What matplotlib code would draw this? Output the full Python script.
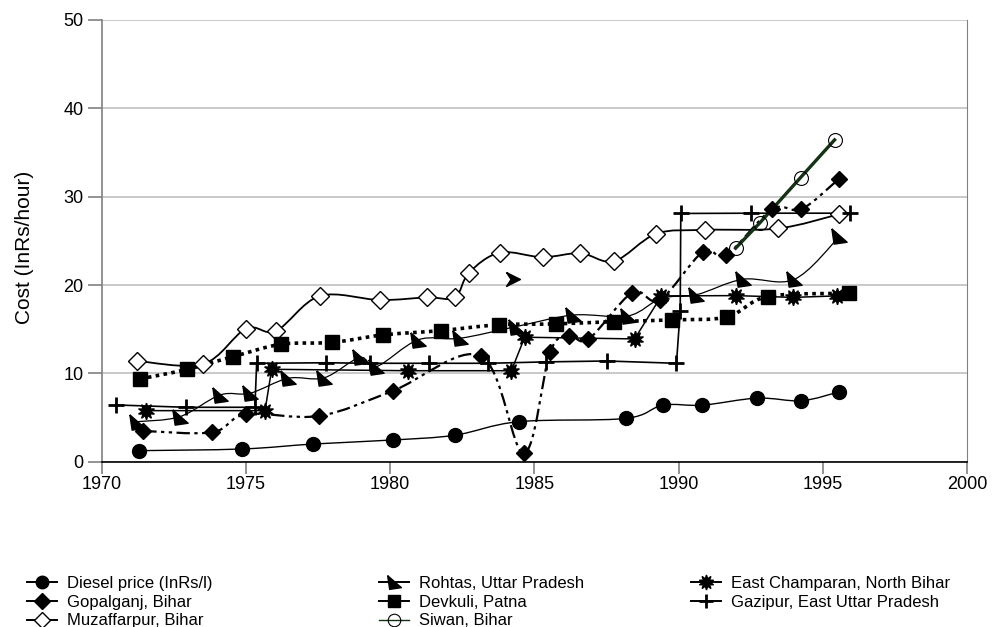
import numpy as np
import matplotlib
matplotlib.use("Agg")
import matplotlib.pyplot as plt
from matplotlib.path import Path
from matplotlib.patches import PathPatch
from matplotlib.lines import Line2D

plt.rcParams['font.family'] = ['Liberation Sans', 'DejaVu Sans']

# ---------------- data ----------------
diesel_x = [1971.3, 1974.87, 1977.33, 1980.1, 1982.24, 1984.45, 1988.16, 1989.45, 1990.82, 1992.72, 1994.25, 1995.55]
diesel_y = [1.25, 1.44, 2.0, 2.46, 3.0, 4.53, 4.9, 6.4, 6.4, 7.2, 6.9, 7.9]

gopal_x = [1971.44, 1973.83, 1975.0, 1977.54, 1980.08, 1983.14, 1984.63, 1985.54, 1986.20, 1986.87,
           1988.39, 1989.34, 1990.84, 1991.65, 1993.24, 1994.25, 1995.54]
gopal_y = [3.48, 3.33, 5.37, 5.18, 8.0, 11.97, 0.95, 12.39, 14.27, 13.86,
           19.14, 18.3, 23.78, 23.4, 28.58, 28.58, 31.98]

muzaf_x = [1971.23, 1973.52, 1975.0, 1976.04, 1977.56, 1979.65, 1981.29, 1982.24, 1982.73, 1983.80,
           1985.28, 1986.59, 1987.76, 1989.22, 1990.92, 1993.44, 1995.54]
muzaf_y = [11.4, 11.06, 15.06, 14.8, 18.76, 18.3, 18.6, 18.6, 21.4, 23.67,
           23.15, 23.6, 22.7, 25.8, 26.24, 26.4, 28.0]

rohtas_x = [1971.23, 1972.71, 1974.10, 1975.14, 1976.46, 1977.71, 1978.95, 1979.52, 1980.97, 1982.41,
            1984.37, 1986.34, 1988.24, 1989.4, 1990.61, 1992.22, 1994.01, 1995.57]
rohtas_y = [4.53, 5.1, 7.55, 7.75, 9.44, 9.5, 11.8, 10.76, 13.8, 13.97,
            15.3, 16.6, 16.5, 18.5, 18.9, 20.65, 20.65, 25.5]

devkuli_x = [1971.33, 1972.97, 1974.56, 1976.23, 1977.99, 1979.75, 1981.75, 1983.77, 1985.76, 1987.76,
             1989.76, 1991.68, 1993.09, 1995.9]
devkuli_y = [9.37, 10.46, 11.9, 13.3, 13.5, 14.35, 14.84, 15.5, 15.6, 15.86,
             16.05, 16.4, 18.7, 19.07]

siwan_x = [1991.97, 1992.80, 1994.22, 1995.40]
siwan_y = [24.17, 27.0, 32.16, 36.43]

champ_x = [1971.52, 1975.66, 1975.89, 1980.62, 1984.2, 1984.66, 1988.47, 1989.4, 1991.99, 1993.96, 1995.49]
champ_y = [5.78, 5.78, 10.46, 10.3, 10.3, 14.09, 13.9, 18.77, 18.8, 18.6, 18.77]

gazi_x = [1970.51, 1972.92, 1975.31, 1975.37, 1977.79, 1979.29, 1981.35, 1983.39, 1985.41, 1987.51,
          1989.92, 1990.05, 1990.07, 1992.52, 1995.95]
gazi_y = [6.42, 6.16, 6.16, 11.14, 11.2, 11.14, 11.14, 11.14, 11.3, 11.4,
          11.14, 17.1, 28.1, 28.13, 28.13]

stray_x = [1984.26]
stray_y = [20.65]

labels = ["Diesel price (InRs/l)", "Gopalganj, Bihar", "Muzaffarpur, Bihar",
          "Rohtas, Uttar Pradesh", "Devkuli, Patna", "Siwan, Bihar",
          "East Champaran, North Bihar", "Gazipur, East Uttar Pradesh"]

xticks = [1970, 1975, 1980, 1985, 1990, 1995, 2000]
yticks = [0, 10, 20, 30, 40, 50]

# ---------------- helpers ----------------
def smooth_path(x, y):
    pts = np.column_stack([x, y]).astype(float)
    n = len(pts)
    verts = [pts[0]]
    codes = [Path.MOVETO]
    for i in range(n - 1):
        p0 = pts[max(i - 1, 0)]
        p1 = pts[i]
        p2 = pts[i + 1]
        p3 = pts[min(i + 2, n - 1)]
        c1 = p1 + (p2 - p0) / 6.0
        c2 = p2 - (p3 - p1) / 6.0
        verts += [c1, c2, p2]
        codes += [Path.CURVE4] * 3
    return Path(verts, codes)

tri = [(-1, 1), (1, -0.75), (-0.7, -1), (-1, 1)]
arrow = [(-1, 1), (1, 0), (-1, -1), (-0.35, 0), (-1, 1)]

dashdotdot = (0, (6, 2, 1.5, 2, 1.5, 2))
dotted = (0, (1, 1.2))

styles = [
    dict(color='black', lw=1.0, ls='-', marker='o', ms=10, mfc='black', mec='black'),
    dict(color='black', lw=1.6, ls=dashdotdot, marker='D', ms=8.5, mfc='black', mec='black'),
    dict(color='black', lw=1.3, ls='-', marker='D', ms=9.5, mfc='white', mec='black', mew=1.0),
    dict(color='black', lw=0.9, ls='-', marker=tri, ms=11, mfc='black', mec='black'),
    dict(color='black', lw=2.6, ls=dotted, marker='s', ms=9.5, mfc='black', mec='black'),
    dict(color='#143214', lw=2.4, ls='-', marker='o', ms=10, mfc='none', mec='black', mew=0.8),
    dict(color='black', lw=1.1, ls='-', marker=(10, 1, 0), ms=12, mfc='black', mec='black'),
    dict(color='black', lw=1.2, ls='-', marker='+', ms=11, mfc='black', mec='black', mew=2.0),
]

series = [(diesel_x, diesel_y, True), (gopal_x, gopal_y, True), (muzaf_x, muzaf_y, True),
          (rohtas_x, rohtas_y, True), (devkuli_x, devkuli_y, True), (siwan_x, siwan_y, False),
          (champ_x, champ_y, False), (gazi_x, gazi_y, False)]

# ---------------- figure ----------------
fig = plt.figure(figsize=(9.94, 6.27), dpi=100)
ax = fig.add_axes([101.7 / 994, 1 - 461.7 / 627, (967.3 - 101.7) / 994, (461.7 - 20) / 627])

ax.set_xlim(1970, 2000)
ax.set_ylim(0, 50)
ax.set_xticks(xticks)
ax.set_yticks(yticks)
ax.yaxis.grid(True, color='#c0c0c0', lw=1.2)
ax.set_axisbelow(True)

ax.spines['top'].set_visible(False)
ax.spines['right'].set_color('#808080')
ax.spines['left'].set_color('#808080')
ax.spines['left'].set_linewidth(1.2)
ax.spines['bottom'].set_color('black')
ax.spines['bottom'].set_linewidth(1.2)
ax.tick_params(axis='y', length=10, width=1.2, color='#808080', labelsize=13, pad=3)
ax.tick_params(axis='x', length=8.5, width=1.2, color='#808080', labelsize=13, pad=2)
ax.set_ylabel("Cost (InRs/hour)", fontsize=15)
ax.yaxis.set_label_coords(-0.078, 0.485)

handles = []
for k, ((x, y, smooth), st, lab) in enumerate(zip(series, styles, labels)):
    z = 3 + k * 0.1
    if smooth:
        patch = PathPatch(smooth_path(x, y), fill=False, edgecolor=st['color'], lw=st['lw'],
                          linestyle=st['ls'], zorder=z)
        ax.add_patch(patch)
    else:
        ax.plot(x, y, color=st['color'], lw=st['lw'], ls=st['ls'], zorder=z)
    mk = dict(marker=st['marker'], ms=st['ms'], mfc=st['mfc'], mec=st['mec'],
              mew=st.get('mew', 1.0), ls='none', zorder=z + 2)
    if k == 3:
        idx = [i for i in range(len(x)) if i != 13]
        ax.plot([x[i] for i in idx], [y[i] for i in idx], **mk)
    else:
        ax.plot(x, y, **mk)
    handles.append(Line2D([0], [0], color=st['color'], lw=1.4 if k != 5 else 1.0,
                          ls='-', marker=st['marker'], ms=st['ms'] * 0.9,
                          mfc=st['mfc'], mec=st['mec'], mew=st.get('mew', 1.0), label=lab))

ax.plot(stray_x, stray_y, ls='none', marker=arrow, ms=10, mfc='black', mec='black', zorder=8)

legfont = dict(family=['Liberation Sans Narrow', 'Liberation Sans'], size=12, stretch='condensed')
col_x = [27, 379, 691]
groups = [handles[0:3], handles[3:6], handles[6:8]]
for cx, grp in zip(col_x, groups):
    fig.legend(handles=grp, loc='upper left', bbox_to_anchor=(cx / 994, 1 - 576 / 627),
               frameon=False, prop=legfont, handlelength=1.8, handletextpad=0.6,
               labelspacing=0.22, borderpad=0, borderaxespad=0)

fig.savefig("out.png", dpi=100)
